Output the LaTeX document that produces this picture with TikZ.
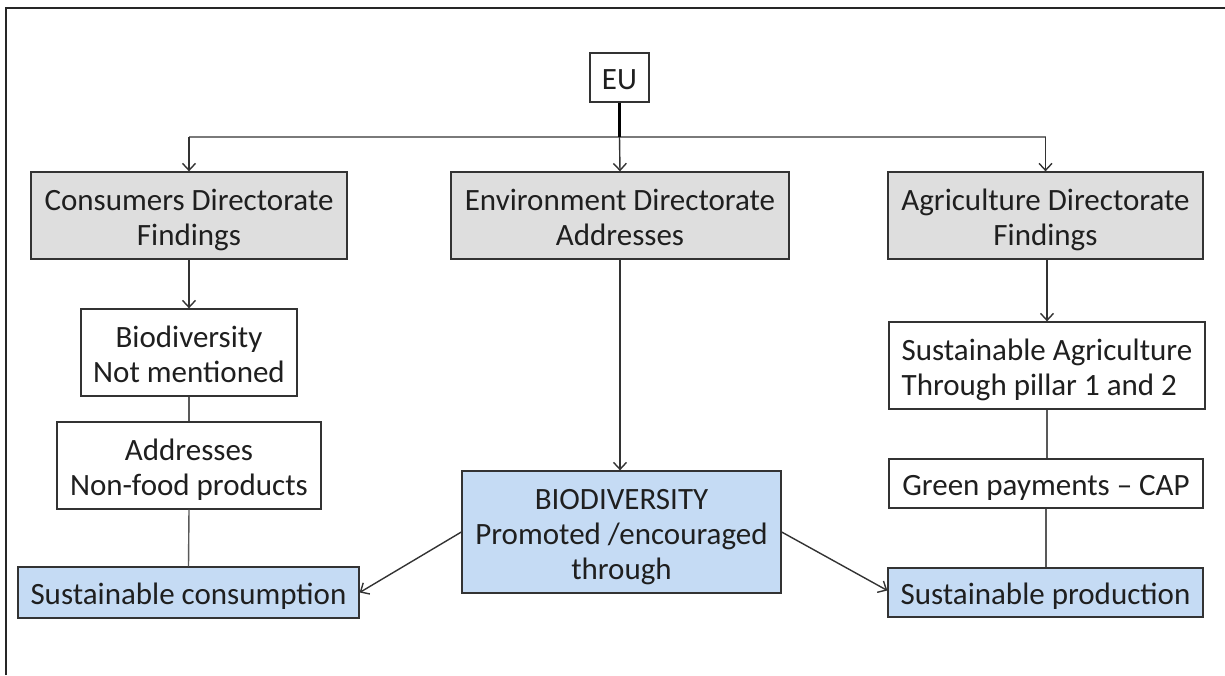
\documentclass[tikz,border=0pt]{standalone}
\usepackage{fontspec}
\setmainfont{Carlito}
\usetikzlibrary{arrows.meta,calc}
\definecolor{boxgrey}{HTML}{DEDEDE}
\definecolor{boxblue}{HTML}{C5DBF4}
\definecolor{edgecol}{HTML}{333333}
\definecolor{conncol}{HTML}{595959}
\definecolor{buscol}{HTML}{7A7A7A}
\newcommand\bxstrut{\rule[-6pt]{0pt}{36pt}}
\newcommand\bxdepth{\rule[-6pt]{0pt}{6pt}}
\begin{document}
\begin{tikzpicture}[x=1pt,y=-1pt,
  box/.style={draw=edgecol, line width=1.3pt, inner sep=0pt, align=center,
    font=\fontsize{31}{35}\selectfont, text=black!88},
  greybox/.style={box, fill=boxgrey},
  bluebox/.style={box, fill=boxblue},
  whitebox/.style={box, fill=white},
  arr/.style={-{Straight Barb[length=7pt,width=13pt]}, draw=black!80, line width=1.4pt},
  plain/.style={draw=conncol, line width=1.4pt},
  bus/.style={draw=buscol, line width=2.5pt}]
\useasboundingbox (0,0) rectangle (1225,675);
% outer frame (top and left edges visible)
\draw[line width=2pt, black!85] (6,675) -- (6,8) -- (1225,8);

\node[whitebox, minimum width=59pt, minimum height=49pt] (eu) at (619.5,77.5) {\bxstrut EU};

\node[greybox, minimum width=316pt, minimum height=87pt] (cons) at (189,215.5) {\bxstrut Consumers Directorate\\Findings\bxdepth};
\node[greybox, minimum width=338pt, minimum height=87pt] (env) at (620,215.5) {\bxstrut Environment Directorate\\Addresses\bxdepth};
\node[greybox, minimum width=315pt, minimum height=87pt] (agr) at (1045.5,215.5) {\bxstrut Agriculture Directorate\\Findings\bxdepth};

\node[whitebox, minimum width=216pt, minimum height=87pt] (biod) at (189,352.5) {\bxstrut Biodiversity\\Not mentioned\bxdepth};
\node[whitebox, minimum width=264pt, minimum height=87pt] (addr) at (189,465.5) {\bxstrut Addresses\\Non-food products\bxdepth};
\node[bluebox, minimum width=341pt, minimum height=51pt] (scons) at (188.5,592.5) {\bxstrut Sustainable consumption};

\node[bluebox, minimum width=319pt, minimum height=122pt] (big) at (621.5,532) {\bxstrut BIODIVERSITY\\Promoted /encouraged\\through\bxdepth};

\node[whitebox, align=left, minimum width=316pt, minimum height=87pt] (sagr) at (1047,365.5) {\bxstrut Sustainable Agriculture\\Through pillar 1 and 2\bxdepth};
\node[whitebox, minimum width=314pt, minimum height=49pt] (green) at (1046,483.5) {\bxstrut Green payments -- CAP};
\node[bluebox, minimum width=315pt, minimum height=49pt] (sprod) at (1045.5,592.5) {\bxstrut Sustainable production};

% EU bus
\coordinate (jc) at (eu.south |- 0,137);
\coordinate (jl) at (cons.north |- 0,137);
\coordinate (jr) at (agr.north |- 0,137);
\draw[bus] (jl) -- (jr);
\draw[line width=2.5pt, black] (eu.south) -- (jc);
\draw[arr] (jc) -- (env.north);
\draw[arr] (jl) -- (cons.north);
\draw[arr] (jr) -- (agr.north);

% left column
\draw[arr] (cons.south) -- (biod.north);
\draw[plain] (biod.south) -- (addr.north);
\draw[plain] (addr.south) -- (scons.north);

% middle
\draw[arr] (env.south) -- (big.north -| env.south);
\draw[arr] (big.west) -- (scons.east);
\draw[arr] (big.east) -- ([yshift=2pt]sprod.west);

% right column
\draw[arr] (agr.south -| sagr.north) -- (sagr.north);
\draw[plain] (sagr.south) -- (green.north -| sagr.south);
\draw[plain] (green.south) -- (sprod.north -| green.south);
\end{tikzpicture}
\end{document}
